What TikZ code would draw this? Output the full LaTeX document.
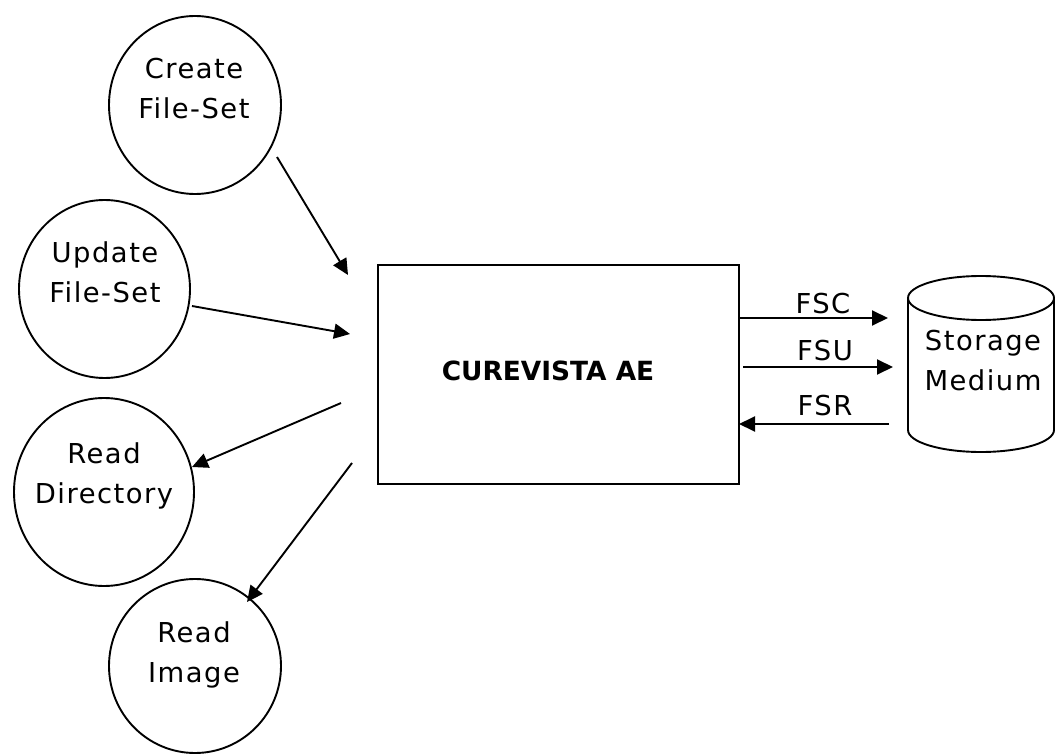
\documentclass[tikz,border=0pt]{standalone}
\usepackage{fontspec}
\setmainfont{DejaVu Sans}
\newfontfamily\lsf{DejaVu Sans}[LetterSpace=5.4]
\usetikzlibrary{arrows.meta,shapes.geometric}
\begin{document}
\begin{tikzpicture}[x=1pt,y=1pt,
  ln/.style={line width=1.9pt},
  proc/.style={ellipse,draw,ln,inner sep=0pt},
  lbl/.style={align=center,inner sep=0pt,anchor=north,font=\lsf\fontsize{27.4}{40}\selectfont},
  flow/.style={ln,-{Triangle[length=16pt,width=15pt]}},
  flabel/.style={inner sep=0pt,anchor=base,font=\lsf\fontsize{27.4}{40}\selectfont}]
\useasboundingbox (0,0) rectangle (1055,-754);
% process circles
\node[proc,minimum width=172pt,minimum height=178pt] (create) at (195,-105) {};
\node[proc,minimum width=171pt,minimum height=178pt] (update) at (104.5,-289) {};
\node[proc,minimum width=180pt,minimum height=188pt] (readdir) at (104,-492) {};
\node[proc,minimum width=172pt,minimum height=174pt] (readimg) at (195,-666) {};
\node[lbl] (createt) at (194,-57.7) {Create\\File-Set};
\node[lbl] (updatet) at (105,-241) {Update\\File-Set};
\node[lbl] (readdirt) at (104,-442) {Read\\Directory};
\node[lbl] (readimgt) at (194,-621) {Read\\Image};
% main box
\draw[ln] (378,-265) rectangle (739,-484);
\node[inner sep=0pt,anchor=base,font=\fontsize{26.4}{32}\selectfont\bfseries] (boxt) at (548,-380) {CUREVISTA AE};
% storage cylinder
\draw[ln] (908,-298) -- (908,-430) arc[start angle=180,end angle=360,x radius=73pt,y radius=22pt] -- (1054,-298);
\draw[ln] (981,-298) ellipse [x radius=73pt,y radius=22pt];
\node[lbl] (storet) at (983,-329.7) {Storage\\Medium};
% flows to/from storage
\coordinate (fscA) at (739,-318);
\coordinate (fscB) at (888,-318);
\coordinate (fsuA) at (743,-367);
\coordinate (fsuB) at (893,-367);
\coordinate (fsrA) at (889,-424);
\coordinate (fsrB) at (739,-424);
\draw[flow] (fscA) -- (fscB);
\draw[flow] (fsuA) -- (fsuB);
\draw[flow] (fsrA) -- (fsrB);
\node[flabel] (fsc) at (823,-313) {FSC};
\node[flabel] (fsu) at (825,-360) {FSU};
\node[flabel] (fsr) at (825,-415) {FSR};
% flows with processes
\coordinate (c1) at (277,-157);
\coordinate (c2) at (348,-275);
\coordinate (u1) at (192,-306);
\coordinate (u2) at (350,-334);
\coordinate (d1) at (341,-403);
\coordinate (d2) at (192,-467);
\coordinate (i1) at (352,-463);
\coordinate (i2) at (247,-602);
\draw[flow] (c1) -- (c2);
\draw[flow] (u1) -- (u2);
\draw[flow] (d1) -- (d2);
\draw[flow] (i1) -- (i2);
\end{tikzpicture}
\end{document}
